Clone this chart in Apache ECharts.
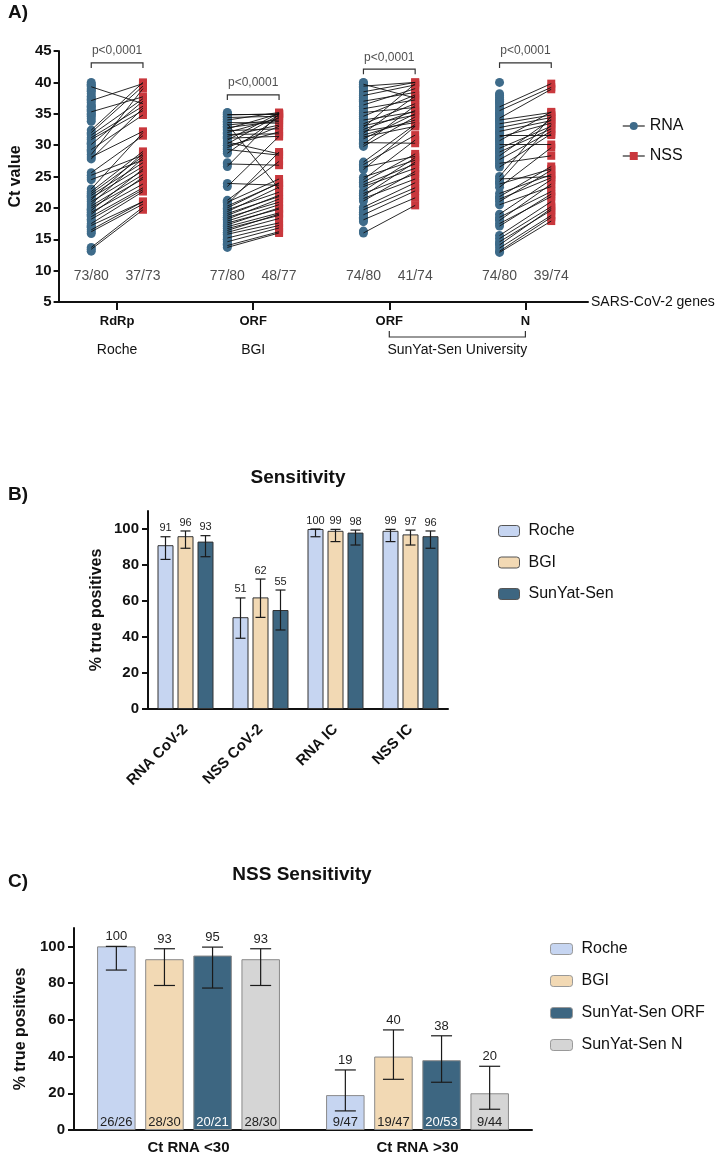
<!DOCTYPE html>
<html>
<head>
<meta charset="utf-8">
<script src="https://cdn.jsdelivr.net/npm/echarts@6/dist/echarts.min.js"></script>
<style>
  html, body { margin: 0; padding: 0; background: #fff; }
  #main { width: 724px; height: 1157px; }
</style>
</head>
<body>
<div id="main"></div>
<script>
const FONT = "'Liberation Sans', Arial, Helvetica, sans-serif";

// ---- panel A : Ct values, RNA vs NSS ----
const genes = ['RdRp', 'ORF', 'ORF', 'N'];
const vendors = ['Roche', 'BGI', 'SunYat-Sen University'];
const vendorAt = [1, 2, 3.5];
const rnaFrac = ['73/80', '77/80', '74/80', '74/80'];
const nssFrac = ['37/73', '48/77', '41/74', '39/74'];
const pLabel = 'p<0,0001';

// [RNA Ct, NSS Ct] for samples positive in both
const rdrpPairs = [[39.3, 36.6], [37.1, 39.8], [35.3, 37.7], [32.4, 40.0], [32.0, 39.4], [31.6, 37.4], [31.2, 36.2], [30.9, 35.5], [30.1, 37.0], [29.3, 34.8], [28.5, 39.0], [28.1, 32.2], [27.8, 35.9], [25.6, 31.5], [25.2, 28.4], [24.5, 27.6], [23.0, 32.0], [22.6, 29.0], [22.3, 28.2], [22.0, 27.2], [21.6, 26.6], [21.3, 28.7], [21.0, 25.9], [20.6, 27.9], [20.3, 25.3], [20.0, 24.6], [19.6, 26.2], [19.3, 23.8], [19.0, 24.9], [18.6, 23.2], [18.2, 22.9], [17.5, 22.6], [17.2, 21.0], [16.5, 21.0], [16.2, 20.6], [13.7, 20.1], [13.4, 19.7]];
// RNA positive, NSS negative
const rdrpRnaOnly = [40.0, 39.7, 39.5, 39.0, 38.8, 38.6, 38.2, 37.8, 37.5, 37.3, 36.8, 36.4, 36.2, 36.0, 35.7, 35.5, 35.0, 34.9, 34.6, 34.2, 33.8, 31.8, 30.5, 30.3, 29.7, 29.1, 28.9, 24.8, 21.8, 19.8, 18.8, 17.9, 17.0, 16.9, 15.9, 13.1];

const bgiPairs = [[35.0, 35.0], [34.8, 35.0], [34.4, 34.6], [34.0, 35.2], [33.6, 33.5], [33.4, 23.0], [33.2, 34.0], [32.8, 33.8], [32.6, 35.0], [32.3, 32.6], [32.0, 34.3], [31.7, 31.8], [31.4, 33.2], [31.1, 31.4], [30.8, 35.1], [30.5, 28.6], [30.2, 34.8], [29.9, 32.1], [29.6, 33.0], [29.3, 28.4], [28.7, 34.5], [27.0, 26.8], [26.6, 35.0], [23.9, 23.6], [23.4, 31.4], [21.2, 27.4], [20.9, 24.6], [20.6, 28.9], [20.3, 23.9], [20.0, 24.0], [19.7, 22.5], [19.4, 23.3], [19.1, 21.8], [18.8, 22.0], [18.5, 20.9], [18.2, 21.4], [17.9, 20.5], [17.6, 19.8], [17.3, 20.0], [17.0, 19.2], [16.7, 18.8], [16.4, 19.0], [16.1, 18.3], [15.8, 17.6], [15.2, 17.2], [14.6, 16.8], [14.0, 16.2], [13.7, 16.0]];
const bgiRnaOnly = [35.2, 35.1, 34.9, 34.6, 34.5, 34.2, 34.1, 33.8, 33.7, 33.3, 33.0, 32.9, 32.5, 31.9, 31.2, 30.0, 29.4, 29.0, 27.2, 21.0, 19.9, 18.4, 17.1, 16.0, 15.5, 15.0, 14.9, 14.3, 14.2];

const orfPairs = [[39.4, 40.0], [38.5, 40.0], [39.7, 37.5], [37.9, 39.6], [37.0, 38.4], [36.4, 39.0], [35.8, 37.2], [35.2, 36.0], [34.6, 38.0], [34.0, 35.3], [33.4, 36.6], [33.1, 34.8], [32.8, 39.8], [32.5, 35.5], [32.2, 33.6], [31.9, 37.8], [31.6, 34.0], [31.3, 33.0], [31.0, 35.0], [30.4, 30.3], [30.1, 36.3], [29.8, 34.5], [27.3, 33.3], [26.9, 31.6], [26.5, 28.2], [26.1, 33.0], [24.9, 27.6], [24.5, 30.8], [24.1, 28.6], [23.7, 27.0], [23.4, 26.3], [22.7, 28.0], [22.3, 25.4], [21.9, 27.3], [21.5, 24.6], [21.1, 25.8], [20.1, 24.0], [19.7, 23.2], [18.9, 22.7], [18.1, 21.6], [16.0, 20.4]];
const orfRnaOnly = [40.0, 39.9, 39.2, 39.1, 38.8, 38.2, 38.0, 37.6, 37.3, 37.1, 36.7, 36.2, 36.1, 35.5, 35.0, 34.9, 34.3, 33.9, 33.7, 32.9, 31.8, 30.9, 30.7, 30.3, 26.7, 24.3, 22.0, 19.3, 19.0, 18.5, 18.3, 17.8, 16.3];

const nPairs = [[36.1, 39.8], [35.5, 39.2], [34.3, 38.9], [34.0, 35.2], [33.4, 34.8], [32.8, 34.4], [32.2, 33.9], [31.6, 31.6], [31.3, 33.5], [30.7, 35.3], [30.1, 30.1], [29.5, 33.0], [28.9, 32.6], [28.3, 34.1], [27.7, 32.2], [27.1, 28.3], [26.5, 31.8], [25.0, 34.6], [24.6, 25.0], [24.2, 33.3], [23.8, 26.2], [23.3, 29.6], [22.3, 25.3], [21.8, 26.6], [21.4, 24.8], [21.0, 26.0], [20.5, 23.4], [19.0, 24.5], [18.5, 22.6], [18.0, 23.8], [17.5, 21.8], [17.1, 22.2], [15.6, 21.0], [15.1, 20.2], [14.6, 19.6], [14.1, 19.9], [13.6, 18.8], [13.1, 18.5], [12.9, 17.9]];
const nRnaOnly = [40.0, 38.2, 37.9, 37.6, 37.3, 37.0, 36.9, 36.7, 36.4, 35.8, 35.2, 35.0, 34.9, 34.6, 33.9, 33.7, 33.1, 32.5, 32.0, 31.9, 31.0, 30.9, 30.4, 29.8, 29.2, 29.0, 28.6, 28.0, 27.9, 27.4, 26.8, 24.0, 21.6, 18.2, 14.3];

// heights of the p-value brackets
const pBarAt = [43.1, 38.0, 42.1, 43.1];

// ---- panel B : sensitivity ----
const sensCats = ['RNA CoV-2', 'NSS CoV-2', 'RNA IC', 'NSS IC'];
const sensRoche = [91, 51, 100, 99];
const sensBgi = [96, 62, 99, 97];
const sensSys = [93, 55, 98, 96];
const sensRocheCi = [[83.1, 95.7], [39.3, 61.7], [95.7, 100], [93.0, 99.8]];
const sensBgiCi = [[89.3, 98.9], [50.9, 72.2], [93.0, 99.8], [91.1, 99.4]];
const sensSysCi = [[84.6, 96.3], [43.9, 66.1], [91.1, 99.4], [89.3, 98.9]];

// ---- panel C : NSS sensitivity by RNA Ct ----
const ctCats = ['Ct RNA <30', 'Ct RNA >30'];
const nssRoche = [100, 19];
const nssBgi = [93, 40];
const nssOrf = [95, 38];
const nssN = [93, 20];
const nssRocheCi = [[87.1, 100], [10.4, 32.7]];
const nssBgiCi = [[78.7, 98.7], [27.6, 54.5]];
const nssOrfCi = [[77.3, 99.6], [26.0, 51.3]];
const nssNCi = [[78.7, 98.7], [11.3, 34.7]];
const nssRocheN = ['26/26', '9/47'];
const nssBgiN = ['28/30', '19/47'];
const nssOrfN = ['20/21', '20/53'];
const nssNN = ['28/30', '9/44'];

const pctTicks = [0, 20, 40, 60, 80, 100];

const BLUE = '#3e6b8a', RED = '#c9383d';
const C_ROCHE = '#c6d5f1', C_BGI = '#f2d9b4', C_SYS = '#3d6681', C_N = '#d5d5d5';

// build the paired points of panel A
const side = 0.19;
const rnaPts = [], nssPts = [], links = [];
[[rdrpPairs, rdrpRnaOnly], [bgiPairs, bgiRnaOnly], [orfPairs, orfRnaOnly], [nPairs, nRnaOnly]].forEach(([pairs, only], g) => {
  const x = g + 1;
  only.forEach(v => rnaPts.push([x - side, v]));
  pairs.forEach(([r, n]) => {
    rnaPts.push([x - side, r]);
    nssPts.push([x + side, n]);
    links.push({ coords: [[x - side, r], [x + side, n]] });
  });
});
const brackets = pBarAt.map((y, g) => ({
  coords: [[g + 1 - side, y - 0.8], [g + 1 - side, y], [g + 1 + side, y], [g + 1 + side, y - 0.8]]
}));
const notes = [];
pBarAt.forEach((y, g) => notes.push({ name: pLabel, value: [g + 1, y + 1.9], label: { fontSize: 12 } }));
rnaFrac.forEach((t, g) => notes.push({ name: t, value: [g + 1 - side, 9.2] }));
nssFrac.forEach((t, g) => notes.push({ name: t, value: [g + 1 + side, 9.2] }));

const axisBlack = { lineStyle: { color: '#111', width: 2 } };

// error bars + value labels drawn on top of grouped bars
function errBars(ci, vals, k, n, step, cap, xi, fs) {
  return {
    type: 'custom', xAxisIndex: xi, yAxisIndex: xi - 1, z: 4, silent: true,
    data: ci.map((c, i) => [i, c[0], c[1], vals[i]]),
    encode: { x: 0, y: [1, 2] },
    renderItem: (params, api) => {
      const lo = api.coord([api.value(0), api.value(1)]);
      const hi = api.coord([api.value(0), api.value(2)]);
      const x = lo[0] + (k - (n - 1) / 2) * step;
      const st = { stroke: '#1a1a1a', lineWidth: 1.2 };
      return {
        type: 'group', children: [
          { type: 'line', shape: { x1: x, y1: lo[1], x2: x, y2: hi[1] }, style: st },
          { type: 'line', shape: { x1: x - cap, y1: hi[1], x2: x + cap, y2: hi[1] }, style: st },
          { type: 'line', shape: { x1: x - cap, y1: lo[1], x2: x + cap, y2: lo[1] }, style: st },
          { type: 'text', x: x, y: hi[1] - 3, style: { text: String(api.value(3)), align: 'center', verticalAlign: 'bottom', fontSize: fs, fill: '#222', fontFamily: FONT } }
        ]
      };
    }
  };
}

function barB(name, vals, color) {
  return {
    name, type: 'bar', xAxisIndex: 2, yAxisIndex: 1, data: vals, barWidth: 16, barGap: '25%',
    itemStyle: { color, borderColor: '#333', borderWidth: 1 }
  };
}
function barC(name, vals, color, counts, txt) {
  return {
    name, type: 'bar', xAxisIndex: 3, yAxisIndex: 2, data: vals, barWidth: 38.5, barGap: '25%',
    itemStyle: { color, borderColor: '#8a8a8a', borderWidth: 1 },
    label: { show: true, position: 'insideBottom', distance: 1, fontSize: 13, color: txt, formatter: p => counts[p.dataIndex] }
  };
}

const pctAxis = (grid, gap) => ({
  type: 'value', gridIndex: grid, min: 0, max: 110,
  name: '% true positives', nameLocation: 'middle', nameGap: gap,
  nameTextStyle: { fontSize: 16, fontWeight: 'bold', color: '#111' },
  axisLine: { show: true, ...axisBlack },
  axisTick: { show: true, length: 6, customValues: pctTicks, ...axisBlack },
  axisLabel: { customValues: pctTicks, fontSize: 15, fontWeight: 'bold', color: '#111', margin: 9 },
  splitLine: { show: false }
});

const chart = echarts.init(document.getElementById('main'));
chart.setOption({
  animation: false,
  backgroundColor: '#fff',
  textStyle: { fontFamily: FONT },
  title: [
    { text: 'A)', left: 8, top: 3, padding: 0, textStyle: { fontSize: 19, fontWeight: 'bold', color: '#111' } },
    { text: 'Sensitivity', left: 298, top: 468, padding: 0, textAlign: 'center', textStyle: { fontSize: 19, fontWeight: 'bold', color: '#111' } },
    { text: 'B)', left: 8, top: 485, padding: 0, textStyle: { fontSize: 19, fontWeight: 'bold', color: '#111' } },
    { text: 'NSS Sensitivity', left: 302, top: 865, padding: 0, textAlign: 'center', textStyle: { fontSize: 19, fontWeight: 'bold', color: '#111' } },
    { text: 'C)', left: 8, top: 872, padding: 0, textStyle: { fontSize: 19, fontWeight: 'bold', color: '#111' } }
  ],
  legend: [
    {
      data: [
        { name: 'RNA', lineStyle: { width: 1.5, color: '#555', opacity: 1 } },
        { name: 'NSS', lineStyle: { width: 1.5, color: '#555', opacity: 1 } }
      ],
      orient: 'vertical', left: 617, top: 113, itemWidth: 22, itemHeight: 10, itemGap: 14,
      textStyle: { fontSize: 16, color: '#111' }
    },
    {
      data: ['Roche', 'BGI', 'SunYat-Sen'],
      orient: 'vertical', left: 493, top: 518, itemWidth: 21, itemHeight: 11, itemGap: 15.5,
      itemStyle: { borderColor: '#555', borderWidth: 1 },
      textStyle: { fontSize: 16, color: '#111', padding: [0, 0, 0, 4] }
    },
    {
      data: ['Roche', 'BGI', 'SunYat-Sen ORF', 'SunYat-Sen N'],
      orient: 'vertical', left: 545, top: 936, itemWidth: 22, itemHeight: 11, itemGap: 16,
      itemStyle: { borderColor: '#999', borderWidth: 1 },
      textStyle: { fontSize: 16, color: '#111', padding: [0, 0, 0, 4] }
    }
  ],
  grid: [
    { left: 50, top: 51, width: 538, height: 251 },
    { left: 148, top: 511, width: 300, height: 198 },
    { left: 74, top: 928, width: 458, height: 202 }
  ],
  xAxis: [
    {
      type: 'value', gridIndex: 0, min: 0.57, max: 4.46, position: 'bottom',
      name: 'SARS-CoV-2 genes', nameLocation: 'end', nameGap: 3,
      nameTextStyle: { fontSize: 14, color: '#111', padding: [40, 0, 0, 0] },
      axisLine: axisBlack,
      axisTick: { length: 8, customValues: [1, 2, 3, 4], ...axisBlack },
      axisLabel: { customValues: [1, 2, 3, 4], formatter: v => genes[Math.round(v) - 1], fontSize: 13, fontWeight: 'bold', color: '#111', margin: 13 },
      splitLine: { show: false }
    },
    {
      type: 'value', gridIndex: 0, min: 0.57, max: 4.46, position: 'bottom',
      axisLine: { show: false }, axisTick: { show: false },
      axisLabel: { customValues: vendorAt, formatter: v => vendors[vendorAt.indexOf(v)], fontSize: 14, color: '#111', margin: 41 },
      splitLine: { show: false }
    },
    {
      type: 'category', gridIndex: 1, data: sensCats,
      axisLine: axisBlack,
      axisTick: { alignWithLabel: true, length: 6, ...axisBlack },
      axisLabel: { rotate: 45, interval: 0, fontSize: 15, fontWeight: 'bold', color: '#111', margin: 18 }
    },
    {
      type: 'category', gridIndex: 2, data: ctCats,
      axisLine: axisBlack,
      axisTick: { alignWithLabel: true, length: 8, ...axisBlack },
      axisLabel: { interval: 0, fontSize: 15, fontWeight: 'bold', color: '#111', margin: 10 }
    }
  ],
  yAxis: [
    {
      type: 'value', gridIndex: 0, min: 5, max: 45, interval: 5,
      name: 'Ct value', nameLocation: 'middle', nameGap: 33,
      nameTextStyle: { fontSize: 16, fontWeight: 'bold', color: '#111' },
      axisLine: { show: true, ...axisBlack },
      axisTick: { show: true, length: 5, ...axisBlack },
      axisLabel: { fontSize: 15, fontWeight: 'bold', color: '#111', margin: 7 },
      splitLine: { show: false }
    },
    pctAxis(1, 43),
    pctAxis(2, 44)
  ],
  series: [
    {
      name: 'RNA', type: 'line', xAxisIndex: 0, yAxisIndex: 0, data: rnaPts,
      symbol: 'circle', symbolSize: 9, itemStyle: { color: BLUE },
      lineStyle: { width: 0, opacity: 0 }, z: 2, silent: true
    },
    {
      name: 'NSS', type: 'line', xAxisIndex: 0, yAxisIndex: 0, data: nssPts,
      symbol: 'rect', symbolSize: 8, itemStyle: { color: RED },
      lineStyle: { width: 0, opacity: 0 }, z: 2, silent: true
    },
    {
      type: 'lines', coordinateSystem: 'cartesian2d', xAxisIndex: 0, yAxisIndex: 0, data: links,
      lineStyle: { color: '#111', width: 0.9, opacity: 1 }, z: 3, silent: true
    },
    {
      type: 'lines', coordinateSystem: 'cartesian2d', xAxisIndex: 0, yAxisIndex: 0, polyline: true, data: brackets,
      lineStyle: { color: '#333', width: 1.2, opacity: 1 }, z: 3, silent: true
    },
    {
      type: 'scatter', xAxisIndex: 0, yAxisIndex: 0, data: notes, symbolSize: 0, silent: true,
      label: { show: true, position: 'inside', formatter: '{b}', fontSize: 14, color: '#222' }
    },
    barB('Roche', sensRoche, C_ROCHE),
    barB('BGI', sensBgi, C_BGI),
    barB('SunYat-Sen', sensSys, C_SYS),
    errBars(sensRocheCi, sensRoche, 0, 3, 20, 5, 2, 11),
    errBars(sensBgiCi, sensBgi, 1, 3, 20, 5, 2, 11),
    errBars(sensSysCi, sensSys, 2, 3, 20, 5, 2, 11),
    barC('Roche', nssRoche, C_ROCHE, nssRocheN, '#222'),
    barC('BGI', nssBgi, C_BGI, nssBgiN, '#222'),
    barC('SunYat-Sen ORF', nssOrf, C_SYS, nssOrfN, '#fff'),
    barC('SunYat-Sen N', nssN, C_N, nssNN, '#222'),
    errBars(nssRocheCi, nssRoche, 0, 4, 48.1, 10.5, 3, 13),
    errBars(nssBgiCi, nssBgi, 1, 4, 48.1, 10.5, 3, 13),
    errBars(nssOrfCi, nssOrf, 2, 4, 48.1, 10.5, 3, 13),
    errBars(nssNCi, nssN, 3, 4, 48.1, 10.5, 3, 13)
  ]
});

// bracket grouping the two SunYat-Sen genes under the axis
const pa = chart.convertToPixel({ xAxisIndex: 0, yAxisIndex: 0 }, [3, 5]);
const pb = chart.convertToPixel({ xAxisIndex: 0, yAxisIndex: 0 }, [4, 5]);
const by = pa[1] + 35;
chart.setOption({
  graphic: [{
    type: 'polyline', silent: true,
    shape: { points: [[pa[0], by - 6], [pa[0], by], [pb[0], by], [pb[0], by - 6]] },
    style: { stroke: '#333', lineWidth: 1.2, fill: null }
  }]
});
</script>
</body>
</html>
